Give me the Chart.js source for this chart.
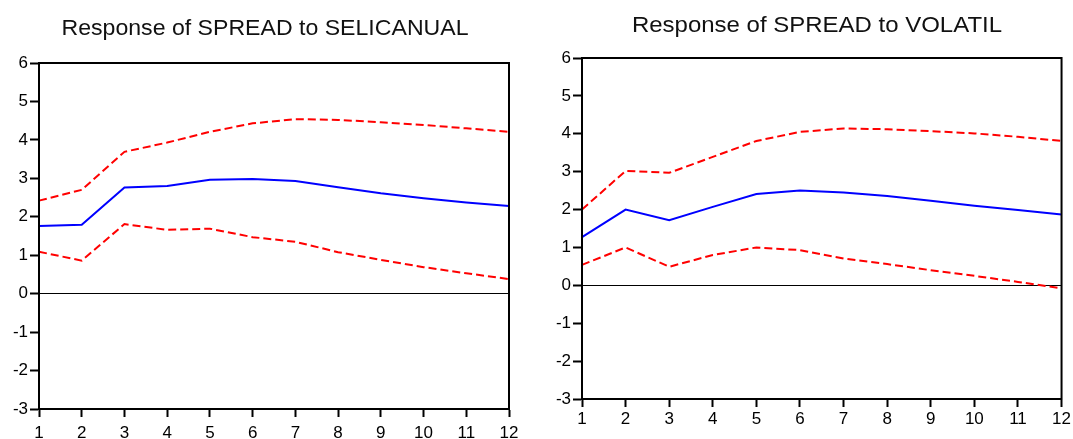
<!DOCTYPE html>
<html>
<head>
<meta charset="utf-8">
<script src="https://cdn.jsdelivr.net/npm/chart.js@4.4.1/dist/chart.umd.min.js"></script>
<style>
  body { margin: 0; background: #fff; }
  #left, #right { position: absolute; top: 0; }
  #left { left: 0; }
  #right { left: 536px; }
</style>
</head>
<body>
<canvas id="left" width="536" height="439"></canvas>
<canvas id="right" width="537" height="439"></canvas>
<script>
const steps = ["1", "2", "3", "4", "5", "6", "7", "8", "9", "10", "11", "12"];

// Response of SPREAD to SELICANUAL
const selicResp = [1.76, 1.79, 2.76, 2.80, 2.96, 2.98, 2.93, 2.77, 2.61, 2.48, 2.37, 2.28];
const selicUpper = [2.42, 2.70, 3.69, 3.93, 4.21, 4.43, 4.54, 4.52, 4.46, 4.39, 4.30, 4.21];
const selicLower = [1.09, 0.86, 1.81, 1.66, 1.69, 1.47, 1.35, 1.08, 0.88, 0.69, 0.53, 0.38];

// Response of SPREAD to VOLATIL
const volResp = [1.27, 2.00, 1.72, 2.07, 2.41, 2.50, 2.45, 2.36, 2.23, 2.10, 1.99, 1.87];
const volUpper = [2.00, 3.02, 2.97, 3.39, 3.81, 4.05, 4.14, 4.12, 4.07, 4.01, 3.92, 3.81];
const volLower = [0.54, 1.00, 0.49, 0.80, 1.00, 0.93, 0.71, 0.56, 0.40, 0.25, 0.09, -0.08];

const yMin = -3, yMax = 6;
const FONT = "'Liberation Sans', Arial, sans-serif";

// cadre noir autour de la zone du graphique
const framePlugin = {
  id: "frame",
  afterDatasetsDraw(chart) {
    const a = chart.chartArea, ctx = chart.ctx;
    ctx.save();
    ctx.strokeStyle = "#000";
    ctx.lineWidth = 2;
    ctx.strokeRect(a.left, a.top, a.right - a.left, a.bottom - a.top);
    ctx.restore();
  }
};

// titre du panneau, un peu étiré comme la sortie d'origine
const titlePlugin = {
  id: "panelTitle",
  afterDraw(chart, args, opts) {
    const ctx = chart.ctx;
    ctx.save();
    ctx.font = "22px " + FONT;
    ctx.fillStyle = "#111";
    ctx.textAlign = "center";
    ctx.textBaseline = "alphabetic";
    ctx.translate(opts.x, opts.y);
    ctx.scale(opts.stretch, 1);
    ctx.fillText(opts.text, 0, 0);
    ctx.restore();
  }
};

function makePanel(id, title, resp, upper, lower, g) {
  const dashed = { borderColor: "#ff0000", borderDash: [8, 4], borderWidth: 2, pointRadius: 0, tension: 0 };
  new Chart(document.getElementById(id), {
    type: "line",
    data: {
      labels: steps,
      datasets: [
        Object.assign({ data: upper }, dashed),
        { data: resp, borderColor: "#0000ff", borderWidth: 2, pointRadius: 0, tension: 0 },
        Object.assign({ data: lower }, dashed)
      ]
    },
    options: {
      responsive: false,
      animation: false,
      events: [],
      layout: { padding: { left: 0, right: g.padRight, top: g.top, bottom: 0 } },
      plugins: {
        legend: { display: false },
        tooltip: { enabled: false },
        panelTitle: { text: title, x: g.titleX, y: g.titleY, stretch: g.stretch }
      },
      scales: {
        x: {
          offset: false,
          grid: { drawOnChartArea: false, tickLength: 8, tickColor: "#000", tickWidth: 2 },
          border: { color: "#000", width: 2 },
          ticks: { color: "#000", font: { size: 17, family: FONT }, padding: g.xPad, maxRotation: 0, autoSkip: false },
          afterFit: s => { s.height = g.xHeight; }
        },
        y: {
          min: yMin,
          max: yMax,
          ticks: { stepSize: 1, color: "#000", font: { size: 17, family: FONT }, padding: 2 },
          grid: {
            color: c => (c.tick && c.tick.value === 0 ? "#000" : "rgba(0,0,0,0)"),
            lineWidth: 1,
            tickLength: 9,
            tickColor: "#000",
            tickWidth: 2
          },
          border: { color: "#000", width: 2 },
          afterFit: s => { s.width = g.yWidth; }
        }
      }
    },
    plugins: [framePlugin, titlePlugin]
  });
}

makePanel("left", "Response of SPREAD to SELICANUAL", selicResp, selicUpper, selicLower,
  { top: 63, padRight: 27, yWidth: 39, xHeight: 30, xPad: 6, titleX: 265, titleY: 35, stretch: 1.05 });
makePanel("right", "Response of SPREAD to VOLATIL", volResp, volUpper, volLower,
  { top: 58, padRight: 10, yWidth: 46, xHeight: 40, xPad: 2, titleX: 281, titleY: 32, stretch: 1.09 });
</script>
</body>
</html>
